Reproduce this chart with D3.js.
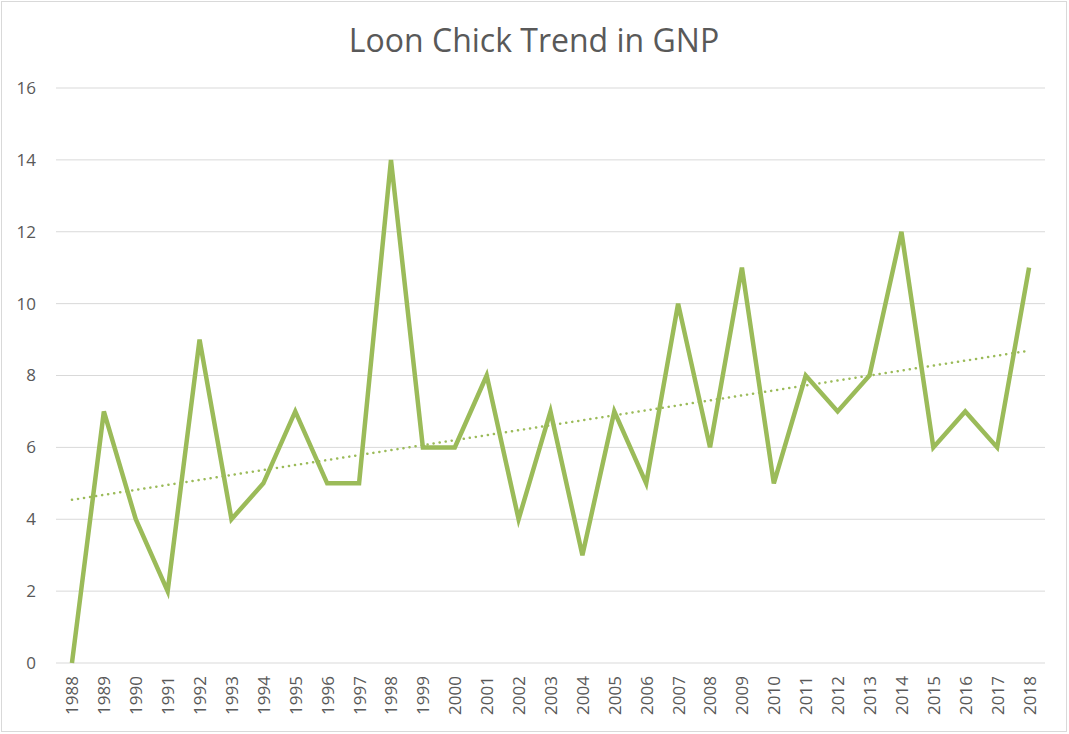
<!DOCTYPE html>
<html>
<head>
<meta charset="utf-8">
<script src="https://cdn.jsdelivr.net/npm/d3@7"></script>
<style>
  body { margin: 0; background: #fff; }
  text { font-family: "Open Sans", "Liberation Sans", sans-serif; fill: #595959; }
</style>
</head>
<body>
<div id="chart"></div>
<script>
// Data
const years = ["1988","1989","1990","1991","1992","1993","1994","1995","1996","1997",
               "1998","1999","2000","2001","2002","2003","2004","2005","2006","2007",
               "2008","2009","2010","2011","2012","2013","2014","2015","2016","2017","2018"];
const chicks = [0,7,4,2,9,4,5,7,5,5,14,6,6,8,4,7,3,7,5,10,6,11,5,8,7,8,12,6,7,6,11];
// Linear trendline ends (1988, 2018)
const trendYears = ["1988", "2018"];
const trendValues = [4.54, 8.69];
const yTicks = [0, 2, 4, 6, 8, 10, 12, 14, 16];

const W = 1069, H = 734;
const margin = {top: 88, right: 24, bottom: 71, left: 56};
const width = W - margin.left - margin.right,
      height = H - margin.top - margin.bottom;

const root = d3.select("#chart").append("svg")
    .attr("width", W).attr("height", H);

// chart border
root.append("rect")
    .attr("x", 1.5).attr("y", 1.5)
    .attr("width", W - 4).attr("height", H - 4)
    .attr("fill", "none").attr("stroke", "#d9d9d9").attr("stroke-width", 1);

// title
root.append("text")
    .attr("x", 534).attr("y", 52)
    .attr("text-anchor", "middle")
    .style("font-size", "32px")
    .text("Loon Chick Trend in GNP");

const svg = root.append("g")
    .attr("transform", `translate(${margin.left},${margin.top})`);

const x = d3.scalePoint().domain(years).range([0, width]).padding(0.5);
const y = d3.scaleLinear().domain([0, 16]).range([height, 0]);

// gridlines
svg.append("g")
   .selectAll("line")
   .data(yTicks.filter(d => d > 0))
   .join("line")
   .attr("x1", 0).attr("x2", width)
   .attr("y1", d => y(d)).attr("y2", d => y(d))
   .attr("stroke", "#d9d9d9").attr("stroke-width", 1);

// x axis
const xAxis = svg.append("g")
   .attr("transform", `translate(0,${height})`)
   .call(d3.axisBottom(x).tickSize(0));
xAxis.select(".domain").attr("stroke", "#d9d9d9").attr("stroke-width", 1)
     .attr("d", `M0,0H${width}`);
xAxis.selectAll("text")
     .style("font-size", "17px")
     .attr("transform", "rotate(-90)")
     .attr("text-anchor", "end")
     .attr("x", -13).attr("y", 0).attr("dy", "0.35em");

// y axis
const yAxis = svg.append("g")
   .call(d3.axisLeft(y).tickValues(yTicks).tickSize(0).tickPadding(20));
yAxis.select(".domain").remove();
yAxis.selectAll("text").style("font-size", "17px");

// data line
const line = d3.line()
    .x((d, i) => x(years[i]))
    .y(d => y(d));

svg.append("path")
   .datum(chicks)
   .attr("d", line)
   .attr("fill", "none")
   .attr("stroke", "#9bbb59")
   .attr("stroke-width", 4.5)
   .attr("stroke-linejoin", "miter");

// trendline
svg.append("path")
   .datum(trendValues)
   .attr("d", d3.line().x((d, i) => x(trendYears[i])).y(d => y(d)))
   .attr("fill", "none")
   .attr("stroke", "#9bbb59")
   .attr("stroke-width", 2.5)
   .attr("stroke-linecap", "round")
   .attr("stroke-dasharray", "0.1 6");
</script>
</body>
</html>
